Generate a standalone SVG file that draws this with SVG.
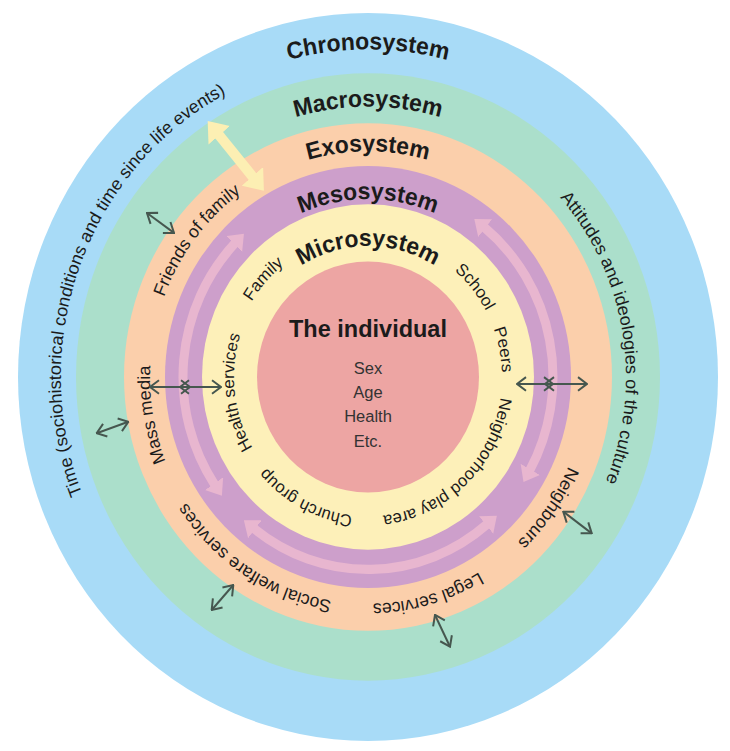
<svg xmlns="http://www.w3.org/2000/svg" width="730" height="751" viewBox="0 0 730 751">
<style>
.t{font-family:"Liberation Sans",Arial,sans-serif;fill:#1b1b1b}
.b{font-weight:bold;font-size:23px}
.l{font-size:17.5px}
.s{font-size:16.5px}
.c{font-size:16.5px;fill:#333}
.pa{fill:none;stroke:#e8b6cf;stroke-width:9}
.da{fill:none;stroke:#46574f;stroke-width:2;marker-start:url(#dh);marker-end:url(#dh)}
</style>
<defs>
<marker id="ph" viewBox="0 0 14 22" refX="1" refY="11" markerWidth="14" markerHeight="22" markerUnits="userSpaceOnUse" orient="auto-start-reverse"><path d="M0,0 L14,11 L0,22 Z" fill="#e8b6cf"/></marker>
<marker id="dh" viewBox="-11 -8 12 16" refX="0" refY="0" markerWidth="12" markerHeight="16" markerUnits="userSpaceOnUse" orient="auto-start-reverse"><path d="M-9,-6.5 L0,0 L-9,6.5" fill="none" stroke="#46574f" stroke-width="2"/></marker>
<marker id="yh" viewBox="0 0 18 28" refX="1" refY="14" markerWidth="18" markerHeight="28" markerUnits="userSpaceOnUse" orient="auto-start-reverse"><path d="M0,0 L18,14 L0,28 Z" fill="#fcefb3"/></marker>
<path id="r315" d="M368,677.5 A315,315 0 1 1 368,47.5 A315,315 0 1 1 368,677.5"/>
<path id="r307" d="M368,669.5 A307,307 0 1 1 368,55.5 A307,307 0 1 1 368,669.5"/>
<path id="r260" d="M368,622.5 A260,260 0 1 1 368,102.5 A260,260 0 1 1 368,622.5"/>
<path id="r258" d="M368,620.5 A258,258 0 1 1 368,104.5 A258,258 0 1 1 368,620.5"/>
<path id="r217" d="M368,579.5 A217,217 0 1 1 368,145.5 A217,217 0 1 1 368,579.5"/>
<path id="r218" d="M368,580.5 A218,218 0 1 1 368,144.5 A218,218 0 1 1 368,580.5"/>
<path id="r171" d="M368,533.5 A171,171 0 1 1 368,191.5 A171,171 0 1 1 368,533.5"/>
<path id="r126" d="M368,488.5 A126,126 0 1 1 368,236.5 A126,126 0 1 1 368,488.5"/>
<path id="r134" d="M368,496.5 A134,134 0 1 1 368,228.5 A134,134 0 1 1 368,496.5"/>
<path id="r137" d="M368,499.5 A137,137 0 1 1 368,225.5 A137,137 0 1 1 368,499.5"/>
</defs>
<rect width="730" height="751" fill="#ffffff"/>
<g transform="matrix(1 0 0 1.04 0 0)">
<g id="chronosystem">
<circle cx="368" cy="362.5" r="350" fill="#a8dbf7"/>
<text class="t b" text-anchor="middle"><textPath href="#r315" startOffset="50%">Chronosystem</textPath></text>
<text class="t l" text-anchor="middle"><textPath href="#r307" startOffset="30.69%">Time (sociohistorical conditions and time since life events)</textPath></text>
</g>
<g id="macrosystem">
<circle cx="368" cy="362.5" r="292" fill="#abdfcb"/>
<text class="t b" text-anchor="middle"><textPath href="#r260" startOffset="50%">Macrosystem</textPath></text>
<text class="t l" text-anchor="middle"><textPath href="#r258" startOffset="72.36%">Attitudes and ideologies of the culture</textPath></text>
</g>
<g id="exosystem">
<circle cx="368" cy="362.5" r="244" fill="#fbcfab"/>
<text class="t b" text-anchor="middle"><textPath href="#r217" startOffset="50%">Exosystem</textPath></text>
<text class="t l" text-anchor="middle"><textPath href="#r218" startOffset="35.42%">Friends of family</textPath></text>
<text class="t l" text-anchor="middle"><textPath href="#r218" startOffset="22.36%">Mass media</textPath></text>
<text class="t l" text-anchor="middle"><textPath href="#r218" startOffset="9.17%">Social welfare services</textPath></text>
<text class="t l" text-anchor="middle"><textPath href="#r218" startOffset="95.56%">Legal services</textPath></text>
<text class="t l" text-anchor="middle"><textPath href="#r218" startOffset="84.72%">Neighbours</textPath></text>
</g>
<g id="mesosystem">
<circle cx="368" cy="362.5" r="203" fill="#cd9fcb"/>
<text class="t b" text-anchor="middle"><textPath href="#r171" startOffset="50%">Mesosystem</textPath></text>
</g>
<g id="microsystem">
<circle cx="368" cy="362.5" r="166" fill="#fdf0b9"/>
<text class="t b" text-anchor="middle"><textPath href="#r126" startOffset="50%">Microsystem</textPath></text>
<text class="t s" text-anchor="middle"><textPath href="#r137" startOffset="36.67%">Family</textPath></text>
<text class="t s" text-anchor="middle"><textPath href="#r134" startOffset="64.17%">School</textPath></text>
<text class="t s" text-anchor="middle"><textPath href="#r134" startOffset="71.94%">Peers</textPath></text>
<text class="t s" text-anchor="middle"><textPath href="#r134" startOffset="87.78%">Neighborhood play area</textPath></text>
<text class="t s" text-anchor="middle"><textPath href="#r134" startOffset="7.78%">Church group</textPath></text>
<text class="t s" text-anchor="middle"><textPath href="#r134" startOffset="23.19%">Health services</textPath></text>
</g>
<g id="individual">
<circle cx="368" cy="362.5" r="111" fill="#eda5a3"/>
<text class="t" x="368" y="324" text-anchor="middle" font-size="23.5" font-weight="bold">The individual</text>
<text class="t c" x="368" y="359.6" text-anchor="middle">Sex</text>
<text class="t c" x="368" y="382.7" text-anchor="middle">Age</text>
<text class="t c" x="368" y="405.8" text-anchor="middle">Health</text>
<text class="t c" x="368" y="429.8" text-anchor="middle">Etc.</text>
</g>
<g id="connectors">
<path class="pa" d="M484.4,218.7 A185,185 0 0 1 529.8,452.2" marker-start="url(#ph)" marker-end="url(#ph)"/>
<path class="pa" d="M486.9,504.2 A185,185 0 0 1 254.1,508.3" marker-start="url(#ph)" marker-end="url(#ph)"/>
<path class="pa" d="M214.6,465.9 A185,185 0 0 1 234.9,234.0" marker-start="url(#ph)" marker-end="url(#ph)"/>
<path d="M218.6,129.3 L253,170.4" fill="none" stroke="#fcefb3" stroke-width="10" marker-start="url(#yh)" marker-end="url(#yh)"/>
<path class="da" d="M150,372.1 L190,372.1"/>
<path class="da" d="M180,372.1 L221,372.1"/>
<path class="da" d="M517,369.2 L553,369.2"/>
<path class="da" d="M545,369.2 L587,369.2"/>
<path class="da" d="M147,204.8 L174,224"/>
<path class="da" d="M96.7,416.6 L128.3,405.5"/>
<path class="da" d="M211.7,586.5 L233.3,562.5"/>
<path class="da" d="M435,591.3 L450,621.8"/>
<path class="da" d="M563.3,492 L591.7,512.8"/>
</g>
</g>
</svg>
